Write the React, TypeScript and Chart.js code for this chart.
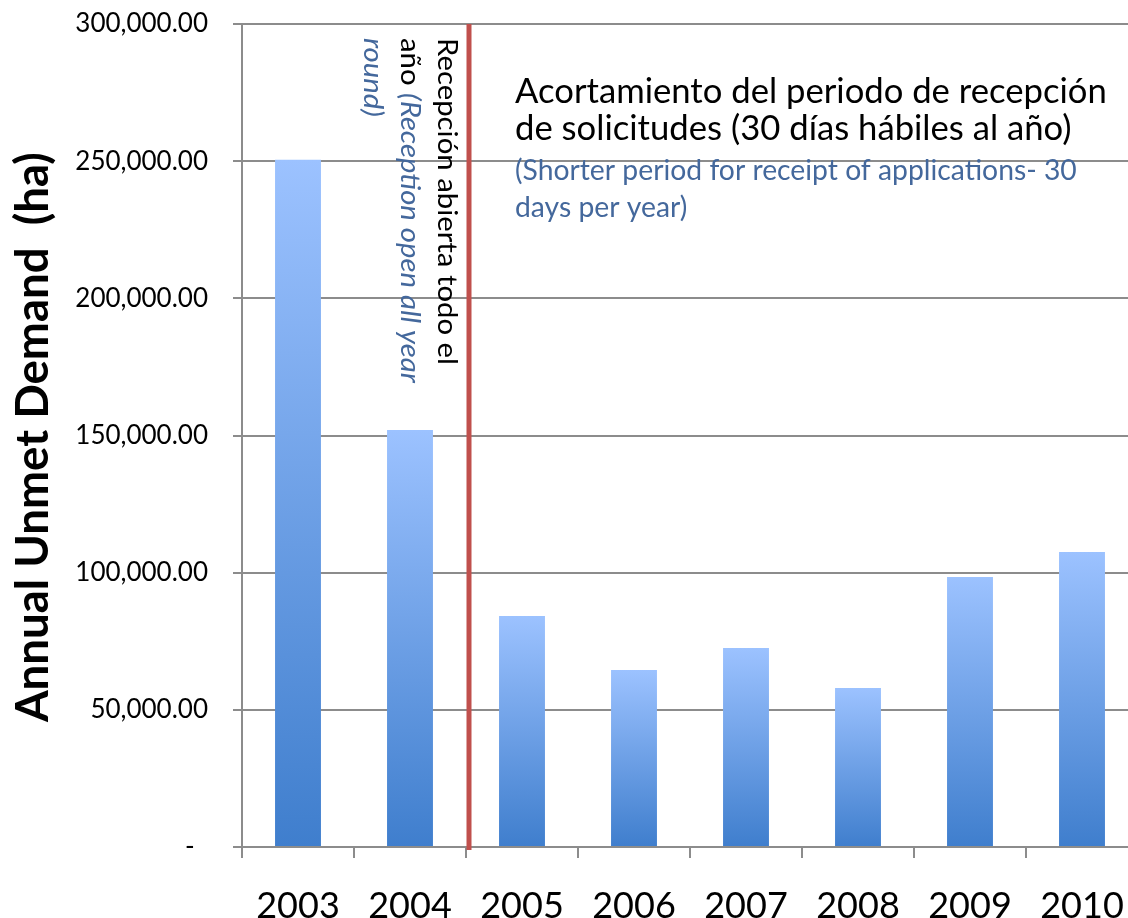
import React, { useEffect, useRef } from "react";
import { Chart, registerables } from "chart.js";

Chart.register(...registerables);

const years = ["2003", "2004", "2005", "2006", "2007", "2008", "2009", "2010"];
const demand = [250500, 152000, 84200, 64500, 72500, 58000, 98400, 107500];
const yMin = 0;
const yMax = 300000;
const yStep = 50000;
const yTitle = "Annual Unmet Demand  (ha)";
const openLine1 = "Recepción abierta todo el";
const openLine2a = "año ";
const openLine2b = "(Reception open all year";
const openLine3 = "round)";
const shortEs = ["Acortamiento del periodo de recepción", "de solicitudes (30 días hábiles al año)"];
const shortEn = ["(Shorter period for receipt of applications- 30", "days per year)"];

const FONT = "Lato, 'Open Sans', sans-serif";
const BLUE_TEXT = "#44689c";

function fitSize(ctx: CanvasRenderingContext2D, text: string, style: string, target: number) {
  ctx.font = `${style} 100px ${FONT}`;
  const w = ctx.measureText(text).width;
  return (100 * target) / w;
}

const notesPlugin = {
  id: "notes",
  afterDraw(chart: any) {
    const ctx: CanvasRenderingContext2D = chart.ctx;
    const xs = chart.scales.x;
    const ys = chart.scales.y;
    ctx.save();
    // red divider between 2004 and 2005
    const bx = (xs.getPixelForValue(1) + xs.getPixelForValue(2)) / 2 + 3;
    ctx.strokeStyle = "#c0504d";
    ctx.lineWidth = 5;
    ctx.beginPath();
    ctx.moveTo(bx, ys.top);
    ctx.lineTo(bx, ys.bottom + 3);
    ctx.stroke();

    ctx.textAlign = "left";
    ctx.textBaseline = "alphabetic";

    // rotated note (clockwise), slightly condensed
    const rSize = 27;
    ctx.font = `normal ${rSize}px ${FONT}`;
    const sx = 327 / ctx.measureText(openLine1).width;
    const drawRot = (bxp: number, parts: { t: string; style: string; color: string }[]) => {
      ctx.save();
      ctx.translate(bxp, 38);
      ctx.rotate(Math.PI / 2);
      ctx.scale(sx, 1);
      let off = 0;
      for (const p of parts) {
        ctx.font = `${p.style} ${rSize}px ${FONT}`;
        ctx.fillStyle = p.color;
        ctx.fillText(p.t, off, 0);
        off += ctx.measureText(p.t).width;
      }
      ctx.restore();
    };
    drawRot(bx - 31, [{ t: openLine1, style: "normal", color: "#000" }]);
    drawRot(bx - 68, [
      { t: openLine2a, style: "normal", color: "#000" },
      { t: openLine2b, style: "italic", color: BLUE_TEXT },
    ]);
    drawRot(bx - 105, [{ t: openLine3, style: "italic", color: BLUE_TEXT }]);

    // horizontal note
    const hs = fitSize(ctx, shortEs[0], "normal", 592);
    ctx.fillStyle = "#000";
    ctx.font = `normal ${hs}px ${FONT}`;
    ctx.fillText(shortEs[0], 515, 103);
    ctx.fillText(shortEs[1], 515, 140);
    const es = fitSize(ctx, shortEn[0], "normal", 562);
    ctx.fillStyle = BLUE_TEXT;
    ctx.font = `normal ${es}px ${FONT}`;
    ctx.fillText(shortEn[0], 515, 180);
    ctx.fillText(shortEn[1], 515, 217);

    // y axis title
    const ts = fitSize(ctx, yTitle, "bold", 570);
    ctx.save();
    ctx.translate(48, 722);
    ctx.rotate(-Math.PI / 2);
    ctx.font = `bold ${ts}px ${FONT}`;
    ctx.fillStyle = "#000";
    ctx.fillText(yTitle, 0, 0);
    ctx.restore();

    ctx.restore();
  },
};

export default function App() {
  const ref = useRef<HTMLCanvasElement | null>(null);
  useEffect(() => {
    if (!ref.current) return;
    const chart = new Chart(ref.current, {
      type: "bar",
      data: {
        labels: years,
        datasets: [
          {
            data: demand,
            backgroundColor: (c: any) => {
              const ch = c.chart;
              if (!ch.chartArea) return "#6f9fe6";
              const ys = ch.scales.y;
              const top = ys.getPixelForValue(c.raw);
              const bot = ys.getPixelForValue(0);
              const g = ch.ctx.createLinearGradient(0, top, 0, bot);
              g.addColorStop(0, "#9cc2ff");
              g.addColorStop(1, "#3f7ecd");
              return g;
            },
            borderWidth: 0,
            barPercentage: 0.41,
            categoryPercentage: 1,
          },
        ],
      },
      options: {
        responsive: false,
        animation: false,
        layout: { padding: { top: 24, right: 0, left: 0, bottom: 0 } },
        plugins: { legend: { display: false }, tooltip: { enabled: false } },
        scales: {
          x: {
            offset: true,
            grid: { offset: true, drawOnChartArea: false, drawTicks: true, tickLength: 11, color: "#8c8c8c", lineWidth: 2 },
            border: { display: true, color: "#8c8c8c", width: 2 },
            ticks: { color: "#000", font: { family: FONT, size: 36 }, padding: 27 },
            afterFit: (s: any) => {
              s.height = 71;
              s.paddingLeft = 0;
              s.paddingRight = 0;
            },
          },
          y: {
            min: yMin,
            max: yMax,
            ticks: {
              stepSize: yStep,
              color: "#000",
              font: { family: FONT, size: 26 },
              padding: 25,
              callback: (v: any) =>
                Number(v) === 0
                  ? "-  "
                  : Number(v).toLocaleString("en-US", { minimumFractionDigits: 2, maximumFractionDigits: 2 }),
            },
            grid: { color: "#8c8c8c", lineWidth: 2, tickLength: 9 },
            border: { display: true, color: "#8c8c8c", width: 2 },
            afterFit: (s: any) => {
              s.width = 242;
              s.paddingTop = 0;
              s.paddingBottom = 0;
            },
          },
        },
      },
      plugins: [notesPlugin],
    });
    return () => chart.destroy();
  }, []);
  return (
    <div style={{ position: "fixed", left: 0, top: 0, width: 1128, height: 918, overflow: "hidden", background: "#fff" }}>
      <canvas ref={ref} width={1138} height={918} style={{ display: "block", width: 1138, height: 918 }} />
    </div>
  );
}
